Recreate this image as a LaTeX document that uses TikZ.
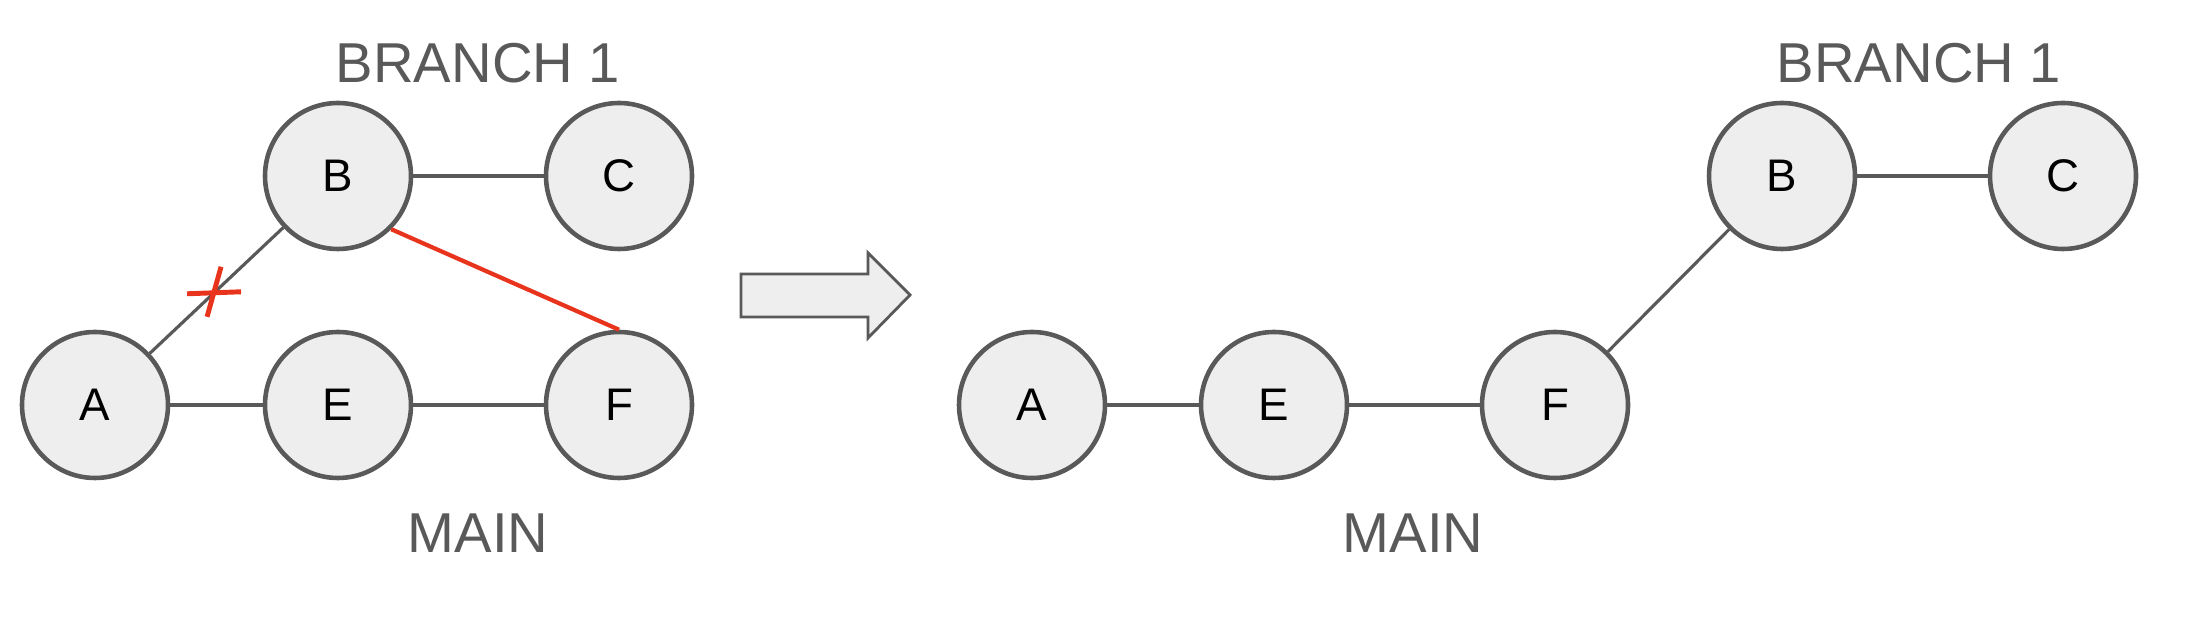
\documentclass[tikz,border=0pt]{standalone}
\usepackage{fontspec}
\setmainfont{Liberation Sans}
\usetikzlibrary{calc}
\definecolor{edgegrey}{HTML}{595959}
\definecolor{nodefill}{HTML}{EEEEEE}
\definecolor{cutred}{HTML}{E8341C}
\tikzset{commit/.style={circle,draw=edgegrey,fill=nodefill,line width=1.3pt,minimum size=14.6mm,inner sep=0pt,font=\fontsize{13}{15}\selectfont},
  brlabel/.style={text=edgegrey,font=\fontsize{16}{18}\selectfont},
  link/.style={draw=edgegrey,line width=1.2pt}}
\begin{document}
\begin{tikzpicture}[x=.1mm,y=-.1mm]
\useasboundingbox (0,0) rectangle (2192,618);
% before
\node[commit] (A) at (95,405){A};\node[commit] (E) at (338,405){E};\node[commit] (F) at (619,405){F};
\node[commit] (B) at (338,176){B};\node[commit] (C) at (619,176){C};
\node[brlabel] (br) at (478,63){BRANCH 1};\node[brlabel] (mn) at (478,533){MAIN};
\draw[link] (A)--(E) (E)--(F) (B)--(C);\draw[link,line width=.9pt] (A)--(B);
\draw[cutred,line width=1.2pt] (B.-45)--(F.90);
\coordinate (cut) at ($(A)!.49!(B)$);
\draw[cutred,line width=1.4pt] ([shift={(-27,1)}]cut)--([shift={(27,-1)}]cut) ([shift={(-7,24)}]cut)--([shift={(7,-26)}]cut);
% arrow
\draw[edgegrey,fill=nodefill,line width=.8pt] (741,274)--(868,274)--(868,253)--(910,295)--(868,338)--(868,317)--(741,317)--cycle;
% after
\node[commit] (A2) at (1032,405){A};\node[commit] (E2) at (1274,405){E};\node[commit] (F2) at (1555,405){F};
\node[commit] (B2) at (1782,176){B};\node[commit] (C2) at (2063,176){C};
\node[brlabel] (br2) at (1919,63){BRANCH 1};\node[brlabel] (mn2) at (1413,533){MAIN};
\draw[link] (A2)--(E2) (E2)--(F2) (B2)--(C2);\draw[link,line width=.9pt] (F2)--(B2);
\end{tikzpicture}
\end{document}
